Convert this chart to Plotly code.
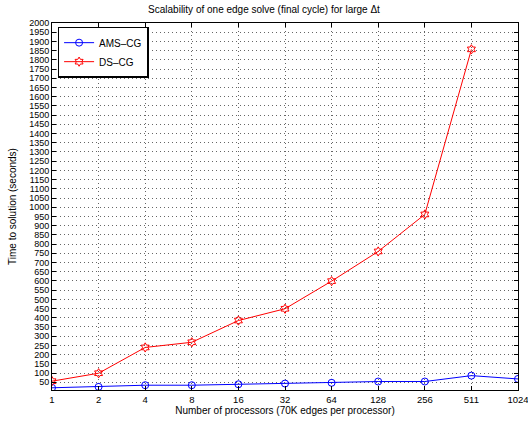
import plotly.graph_objects as go

procs = ["1", "2", "4", "8", "16", "32", "64", "128", "256", "511", "1024"]
ams_cg = [20, 25, 34, 34, 39, 43, 47, 54, 54, 86, 68]
ds_cg = [56, 99, 239, 267, 385, 449, 599, 760, 961, 1857]
yticks = list(range(50, 2001, 50))

fig = go.Figure()
fig.add_trace(go.Scatter(x=procs, y=ams_cg, name="AMS\u2013CG", mode="lines+markers",
                         line=dict(color="blue", width=1),
                         marker=dict(symbol="circle-open", size=7, color="blue", line=dict(width=1))))
fig.add_trace(go.Scatter(x=procs[:len(ds_cg)], y=ds_cg, name="DS\u2013CG", mode="lines+markers",
                         line=dict(color="red", width=1),
                         marker=dict(symbol="hexagram-open", size=7, color="red", line=dict(width=1))))

axis_common = dict(showline=True, linecolor="black", linewidth=1, mirror="ticks",
                   ticks="inside", ticklen=4, tickcolor="black",
                   showgrid=True, gridcolor="#666666", griddash="1px,3px", gridwidth=1,
                   zeroline=False, automargin=False, tickfont=dict(size=9.5, color="black"))

fig.update_layout(
    width=528, height=423,
    margin=dict(l=52, r=10, t=23, b=33),
    paper_bgcolor="white", plot_bgcolor="white",
    font=dict(family="Liberation Sans, Arial, sans-serif", size=10, color="black"),
    title=dict(text="Scalability of one edge solve (final cycle) for large \u0394t",
               x=0.5, xanchor="center", y=0.985, yanchor="top", font=dict(size=10)),
    xaxis=dict(type="category", range=[0, 10],
               title=dict(text="Number of processors (70K edges per processor)", standoff=2, font=dict(size=10)),
               ticklabelstandoff=1, **axis_common),
    yaxis=dict(range=[8, 2000], tickvals=yticks,
               title=dict(text="Time to solution (seconds)", standoff=10, font=dict(size=10)),
               **axis_common),
    legend=dict(x=0.012, y=0.99, xanchor="left", yanchor="top", bgcolor="white",
                bordercolor="black", borderwidth=1.5, font=dict(size=10),
                tracegroupgap=0, itemwidth=30),
    showlegend=True,
)
fig.update_yaxes(tickfont=dict(size=9))

fig.write_html("out.html", config={"displayModeBar": False},
               post_script="document.body.style.margin='0px';")
